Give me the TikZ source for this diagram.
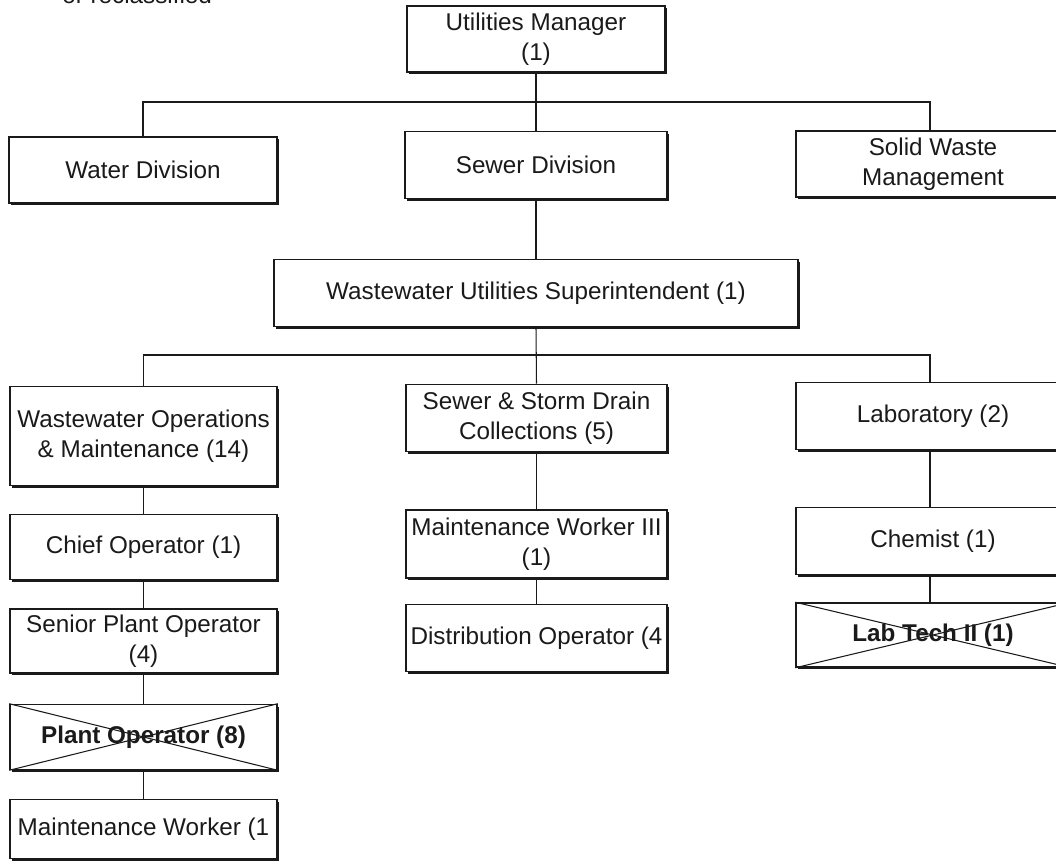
\documentclass[tikz,border=0pt]{standalone}
\usepackage{fontspec}
\setmainfont{Liberation Sans}
\usetikzlibrary{shadows}
\definecolor{OrgInk}{HTML}{1A1A1A}

\begin{document}
\begin{tikzpicture}[x=0.02cm, y=-0.02cm,
    orgbox/.style={draw=OrgInk, fill=white, line width=0.9pt, inner sep=0pt, align=center,
      text=OrgInk, font=\fontsize{13.8}{17}\selectfont,
      drop shadow={shadow xshift=1.3pt, shadow yshift=-1.3pt, fill=OrgInk, opacity=1}},
    leftcol/.style={orgbox, minimum width=5.34cm},
    midcol/.style={orgbox, minimum width=5.22cm},
    rightcol/.style={orgbox, minimum width=5.48cm},
    struck/.style={font=\fontsize{13.8}{17}\selectfont\bfseries},
    link/.style={draw=OrgInk, line width=0.6pt}]
  \useasboundingbox (0,0) rectangle (1056,862);
  \clip (0,0) rectangle (1056,862);

  % Note, cut at the page top
  \node[anchor=base west, inner sep=0pt, text=OrgInk, font=\fontsize{13.8}{17}\selectfont] (note) at (62,4) {or reclassified};

  % Manager
  \node[orgbox, minimum width=5.16cm, minimum height=1.32cm] (um) at (536,39) {Utilities Manager\\(1)};

  % Divisions
  \node[orgbox, minimum width=5.36cm, minimum height=1.32cm] (water) at (143,170) {Water Division};
  \node[orgbox, minimum width=5.24cm, minimum height=1.34cm] (sewer) at (536,165) {Sewer Division};
  \node[rightcol, minimum height=1.32cm] (solid) at (933,164) {Solid Waste\\Management};

  % Superintendent
  \node[orgbox, minimum width=10.48cm, minimum height=1.34cm] (sup) at (536,293) {Wastewater Utilities Superintendent (1)};

  % Operations column
  \node[leftcol, minimum height=1.98cm] (ops) at (143.5,436) {Wastewater Operations\\\& Maintenance (14)};
  \node[leftcol, minimum height=1.30cm] (chief) at (143.5,547) {Chief Operator (1)};
  \node[leftcol, minimum height=1.28cm] (senior) at (143.5,641) {Senior Plant Operator\\(4)};
  \node[leftcol, struck, minimum height=1.30cm] (plant) at (143.5,737) {Plant Operator (8)};
  \node[leftcol, minimum height=1.18cm] (maint) at (143.5,829) {Maintenance Worker (1};

  % Collections column
  \node[midcol, minimum height=1.34cm] (ssd) at (536.5,418) {Sewer \& Storm Drain\\Collections (5)};
  \node[midcol, minimum height=1.36cm] (mw3) at (536.5,544) {Maintenance Worker III\\(1)};
  \node[midcol, minimum height=1.34cm] (dist) at (536.5,638) {Distribution Operator (4};

  % Laboratory column
  \node[rightcol, minimum height=1.34cm] (lab) at (933,416) {Laboratory (2)};
  \node[rightcol, minimum height=1.34cm] (chem) at (933,541) {Chemist (1)};
  \node[rightcol, struck, minimum height=1.28cm] (labtech) at (933,635) {Lab Tech II (1)};

  % Struck-out positions
  \draw[link] (plant.north west) -- (plant.south east) (plant.south west) -- (plant.north east);
  \draw[link] (labtech.north west) -- (labtech.south east) (labtech.south west) -- (labtech.north east);

  % Connectors
  \coordinate (bar1) at (536,102);
  \coordinate (bar2) at (536,355);
  \draw[link] (um.south) -- (sewer.north);
  \draw[link] (water.north) |- (bar1) -| ([xshift=-0.06cm]solid.north);
  \draw[link] (sewer.south) -- (sup.north);
  \draw[link] (sup.south) -- (ssd.north);
  \draw[link] (ops.north) |- (bar2) -| ([xshift=-0.06cm]lab.north);
  \draw[link] (ops.south) -- (chief.north);
  \draw[link] (chief.south) -- (senior.north);
  \draw[link] (senior.south) -- (plant.north);
  \draw[link] (plant.south) -- (maint.north);
  \draw[link] (ssd.south) -- (mw3.north);
  \draw[link] (mw3.south) -- (dist.north);
  \draw[link] ([xshift=-0.06cm]lab.south) -- ([xshift=-0.06cm]chem.north);
  \draw[link] ([xshift=-0.06cm]chem.south) -- ([xshift=-0.06cm]labtech.north);
\end{tikzpicture}
\end{document}
